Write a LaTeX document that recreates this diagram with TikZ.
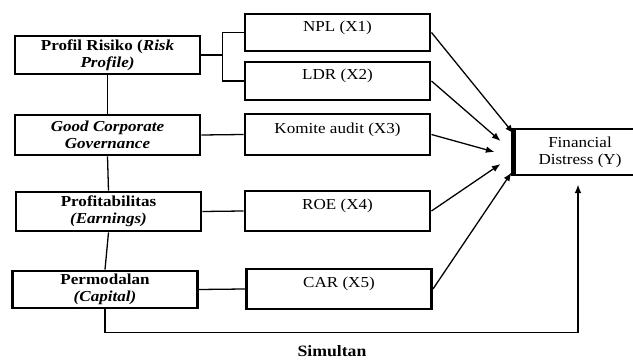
\documentclass[tikz,border=0pt]{standalone}
\usepackage{fontspec}
\setmainfont{Liberation Serif}[FakeStretch=1.12]
\usetikzlibrary{arrows.meta,calc}

\begin{document}
\begin{tikzpicture}[x=0.03cm,y=0.03cm,every node/.style={font=\fontsize{13}{14.5}\selectfont,align=center},
dimbox/.style={draw,line width=2.5pt,minimum width=5.55cm,minimum height=#1,inner sep=0pt},
indbox/.style={draw,line width=2.5pt,minimum width=5.55cm,minimum height=#1,text height=0.3cm,text depth=0.36cm,inner sep=0pt},
link/.style={line width=1.1pt},
arr/.style={line width=1.1pt,-{Latex[length=2.6mm,width=2mm]}}]
\useasboundingbox (0,0) rectangle (633,361);
% dimensi (kiri)
\node[dimbox=1.14cm,font=\fontsize{13}{14.5}\selectfont\bfseries] (risk) at (107.5,306) {Profil Risiko (\textit{Risk}\\\textit{Profile)}};
\node[dimbox=1.2cm,font=\fontsize{13}{14.5}\selectfont\bfseries\itshape] (gcg) at (107.5,226) {Good Corporate\\Governance};
\node[dimbox=1.17cm,font=\fontsize{13}{14.5}\selectfont\bfseries] (prof) at (108.5,149.5) {Profitabilitas\\\textit{(Earnings)}};
\node[dimbox=1.11cm,font=\fontsize{13}{14.5}\selectfont\bfseries] (perm) at (105,71.5) {Permodalan\\\textit{(Capital)}};
% indikator (tengah)
\node[indbox=1.11cm] (npl) at (337.5,328.5) {NPL (X1)};
\node[indbox=1.14cm] (ldr) at (337.5,280) {LDR (X2)};
\node[indbox=1.23cm] (kom) at (337.5,226.5) {Komite audit (X3)};
\node[indbox=1.2cm] (roe) at (337.5,150) {ROE (X4)};
\node[indbox=1.2cm] (car) at (339,72) {CAR (X5)};
% variabel dependen
\node[draw,line width=2.5pt,minimum width=3.9cm,minimum height=1.38cm,inner sep=0pt] (fd) at (580,209) {Financial\\Distress (Y)};
\draw[line width=4pt] (fd.north west) -- (fd.south west);
\node[font=\fontsize{13.5}{15}\selectfont\bfseries] (sim) at (332,10) {Simultan};
% garis penghubung
\draw[link] (risk.east) -- ($(risk.east)!0.5!(risk.east -| npl.west)$) coordinate (fork);
\draw[link] (npl.west) -| (fork) |- (ldr.west);
\draw[link] (risk.south) -- (gcg.north);
\draw[link] (gcg.south) -- (prof.north);
\draw[link] (prof.south) -- (perm.north);
\draw[link] (gcg.east) -- (kom.west);
\draw[link] (prof.east) -- (roe.west);
\draw[link] (perm.east) -- (car.west);
% panah ke Y
\draw[arr] (npl.east) -- ($(fd.north west)+(0,-6)$);
\draw[arr] (ldr.east) -- ($(fd.west)+(-13,11)$);
\draw[arr] (kom.east) -- ($(fd.west)+(-19,0)$);
\draw[arr] (roe.east) -- ($(fd.west)+(-13,-12)$);
\draw[arr] (car.east) -- ($(fd.south west)+(-2,4)$);
\draw[arr] (perm.south) -- ++(0,-23) -| ($(fd.south)+(-2,-8)$);
\end{tikzpicture}
\end{document}
